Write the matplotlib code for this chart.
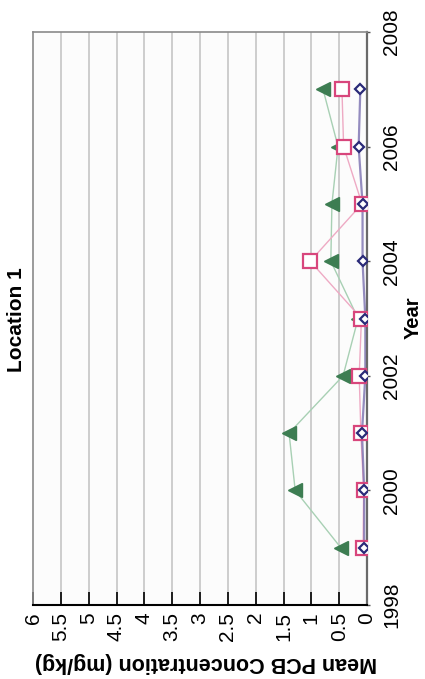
import matplotlib
matplotlib.use("Agg")
import matplotlib.pyplot as plt
import numpy as np

plt.rcParams['font.family'] = ['Liberation Sans', 'DejaVu Sans']

# ---- data ----
years = [1999, 2000, 2001, 2002, 2003, 2004, 2005, 2006, 2007]
series_triangle = [0.47, 1.29, 1.40, 0.43, 0.16, 0.65, 0.63, 0.52, 0.79]
series_square = [0.07, 0.06, 0.11, 0.14, 0.10, 1.02, 0.09, 0.42, 0.45]
series_diamond = [0.05, 0.05, 0.09, 0.03, 0.03, 0.08, 0.08, 0.15, 0.12]
conc_ticks = [0, 0.5, 1, 1.5, 2, 2.5, 3, 3.5, 4, 4.5, 5, 5.5, 6]
conc_labels = ['0', '0.5', '1', '1.5', '2', '2.5', '3', '3.5', '4', '4.5', '5', '5.5', '6']
year_ticks = [1998, 2000, 2002, 2004, 2006, 2008]
title = "Location 1"
conc_label = "Mean PCB Concentration (mg/kg)"
year_label = "Year"

W, H = 425, 679
fig = plt.figure(figsize=(W / 100, H / 100), dpi=100)
fig.patch.set_facecolor('white')

left, right, top, bottom = 33, 367, 32, 605
ax = fig.add_axes([left / W, 1 - bottom / H, (right - left) / W, (bottom - top) / H])
ax.set_facecolor('#fcfcfc')

# grid (originally horizontal gridlines)
for v in conc_ticks[1:-1]:
    ax.axvline(v, color='#cdcdcd', lw=1.4, zorder=0)

# lines
ax.plot(series_triangle, years, color='#a8d0b4', lw=1.0, zorder=2)
ax.plot(series_square, years, color='#eeaac4', lw=1.0, zorder=2)
ax.plot(series_diamond, years, color='#7a70b0', lw=1.6, alpha=0.8, zorder=2)

# markers
ax.plot(series_triangle, years, linestyle='none', marker='<', ms=10.5,
        color='#3d7d52', mec='#3d7d52', zorder=4)
ax.plot(series_square, years, linestyle='none', marker='s', ms=9.5,
        mfc='white', mec='#d8467c', mew=1.6, zorder=5)
ax.plot(series_diamond, years, linestyle='none', marker='D', ms=5.5,
        mfc='white', mec='#2a2a78', mew=1.6, zorder=6)

ax.set_xlim(6, 0)
ax.set_ylim(1998, 2008)

ax.set_xticks(conc_ticks)
ax.set_xticklabels(conc_labels, rotation=90, fontsize=15)
ax.tick_params(axis='x', direction='in', length=9.5, width=1.2, color='black', pad=5)
for lab in ax.get_xticklabels():
    lab.set_verticalalignment('top')
    lab.set_horizontalalignment('center')

ax.yaxis.tick_right()
ax.set_yticks(year_ticks)
ax.set_yticklabels([str(y) for y in year_ticks], rotation=90, fontsize=15, va='center')
ax.tick_params(axis='y', direction='out', length=2, width=1, color='#555555', pad=9)

for s in ['left', 'top']:
    ax.spines[s].set_color('#8a8a8a')
    ax.spines[s].set_linewidth(1.2)
ax.spines['bottom'].set_color('black')
ax.spines['bottom'].set_linewidth(1.5)
ax.spines['right'].set_color('#6a6a6a')
ax.spines['right'].set_linewidth(1.6)

fig.text(17 / W, 1 - 320 / H, title, rotation=90, fontsize=15, fontweight='bold',
         ha='center', va='center')
fig.text(413 / W, 1 - 318 / H, year_label, rotation=90, fontsize=14.5, fontweight='bold',
         ha='center', va='center')
fig.text(206 / W, 1 - 662 / H, conc_label, rotation=180, fontsize=15.5, fontweight='bold',
         ha='center', va='center')

fig.savefig('out.png', dpi=100, facecolor='white')
